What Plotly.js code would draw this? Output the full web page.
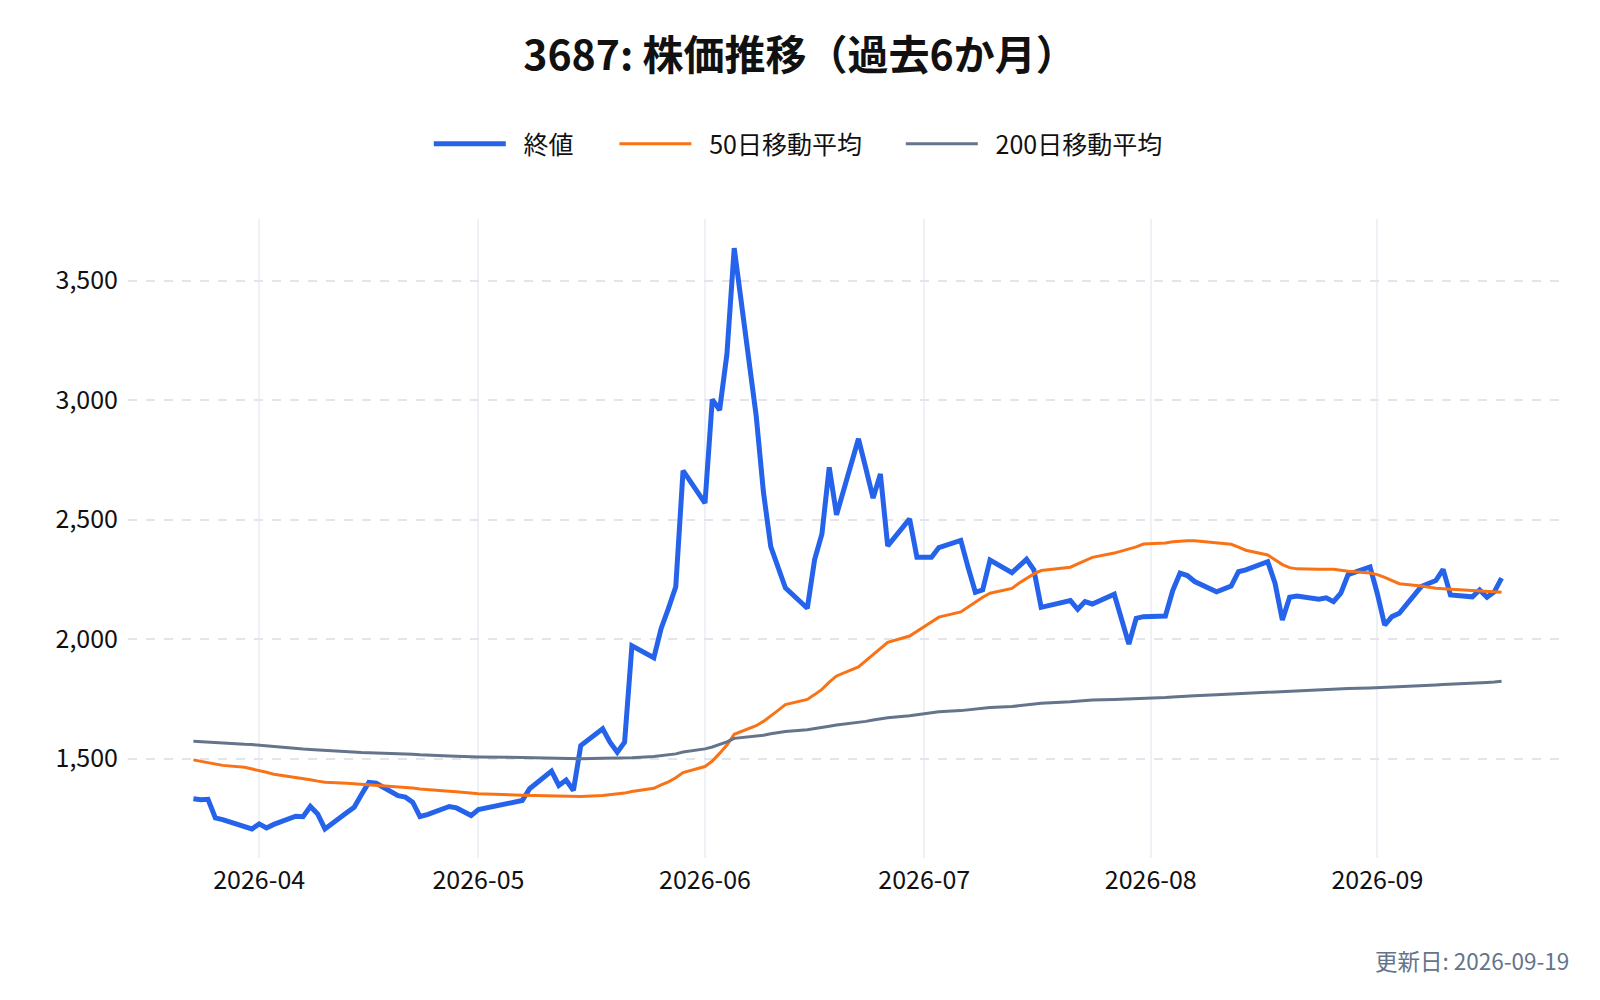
<!DOCTYPE html>
<html>
<head>
<meta charset="utf-8">
<script src="https://cdn.plot.ly/plotly-3.0.1.min.js"></script>
<style>
  body { margin: 0; background: #ffffff; }
  #chart { width: 1600px; height: 1000px; }
</style>
</head>
<body>
<div id="chart"></div>
<script>
// 3687 - price history, last 6 months (TSE trading days)
const FONT = '"Noto Sans CJK JP", "Noto Sans", sans-serif';

const dates = [
    '2026-03-23', '2026-03-24', '2026-03-25', '2026-03-26', '2026-03-27', '2026-03-30', '2026-03-31',
    '2026-04-01', '2026-04-02', '2026-04-03', '2026-04-06', '2026-04-07', '2026-04-08', '2026-04-09',
    '2026-04-10', '2026-04-13', '2026-04-14', '2026-04-15', '2026-04-16', '2026-04-17', '2026-04-20',
    '2026-04-21', '2026-04-22', '2026-04-23', '2026-04-24', '2026-04-27', '2026-04-28', '2026-04-30',
    '2026-05-01', '2026-05-07', '2026-05-08', '2026-05-11', '2026-05-12', '2026-05-13', '2026-05-14',
    '2026-05-15', '2026-05-18', '2026-05-19', '2026-05-20', '2026-05-21', '2026-05-22', '2026-05-25',
    '2026-05-26', '2026-05-27', '2026-05-28', '2026-05-29', '2026-06-01', '2026-06-02', '2026-06-03',
    '2026-06-04', '2026-06-05', '2026-06-08', '2026-06-09', '2026-06-10', '2026-06-11', '2026-06-12',
    '2026-06-15', '2026-06-16', '2026-06-17', '2026-06-18', '2026-06-19', '2026-06-22', '2026-06-23',
    '2026-06-24', '2026-06-25', '2026-06-26', '2026-06-29', '2026-06-30', '2026-07-01', '2026-07-02',
    '2026-07-03', '2026-07-06', '2026-07-07', '2026-07-08', '2026-07-09', '2026-07-10', '2026-07-13',
    '2026-07-14', '2026-07-15', '2026-07-16', '2026-07-17', '2026-07-21', '2026-07-22', '2026-07-23',
    '2026-07-24', '2026-07-27', '2026-07-28', '2026-07-29', '2026-07-30', '2026-07-31', '2026-08-03',
    '2026-08-04', '2026-08-05', '2026-08-06', '2026-08-07', '2026-08-10', '2026-08-12', '2026-08-13',
    '2026-08-14', '2026-08-17', '2026-08-18', '2026-08-19', '2026-08-20', '2026-08-21', '2026-08-24',
    '2026-08-25', '2026-08-26', '2026-08-27', '2026-08-28', '2026-08-31', '2026-09-01', '2026-09-02',
    '2026-09-03', '2026-09-04', '2026-09-07', '2026-09-08', '2026-09-09', '2026-09-10', '2026-09-11',
    '2026-09-14', '2026-09-15', '2026-09-16', '2026-09-17', '2026-09-18',
];

const closePrice = [
    1332, 1328, 1330, 1252, 1245, 1218, 1206,
    1227, 1210, 1225, 1259, 1257, 1300, 1269,
    1206, 1275, 1297, 1350, 1401, 1397, 1345,
    1339, 1318, 1258, 1266, 1300, 1294, 1262,
    1287, 1325, 1374, 1448, 1388, 1411, 1367,
    1555, 1625, 1569, 1527, 1569, 1972, 1922,
    2045, 2129, 2219, 2705, 2569, 3003, 2958,
    3192, 3636, 2935, 2615, 2387, 2300, 2215,
    2129, 2333, 2440, 2719, 2520, 2838, 2715,
    2590, 2691, 2390, 2503, 2343, 2343, 2343,
    2383, 2413, 2300, 2196, 2206, 2331, 2278,
    2305, 2334, 2290, 2133, 2161, 2125, 2157,
    2147, 2188, 2080, 1979, 2087, 2094, 2097,
    2203, 2276, 2266, 2241, 2198, 2222, 2282,
    2290, 2324, 2234, 2080, 2175, 2180, 2167,
    2173, 2157, 2192, 2270, 2302, 2190, 2059,
    2094, 2108, 2220, 2233, 2245, 2292, 2185,
    2177, 2206, 2175, 2198, 2255,
];

const ma50 = [
    1495, 1490, 1484, 1477, 1472, 1464, 1458,
    1450, 1443, 1435, 1423, 1419, 1412, 1406,
    1401, 1397, 1395, 1393, 1390, 1387, 1384,
    1381, 1377, 1373, 1370, 1364, 1362, 1356,
    1353, 1347, 1346, 1345, 1344, 1343, 1341,
    1342, 1346, 1349, 1352, 1356, 1363, 1376,
    1390, 1403, 1420, 1442, 1467, 1490, 1522,
    1557, 1602, 1638, 1656, 1678, 1702, 1726,
    1748, 1768, 1790, 1820, 1846, 1884, 1910,
    1935, 1960, 1987, 2013, 2032, 2053, 2072,
    2092, 2114, 2135, 2155, 2175, 2192, 2212,
    2235, 2255, 2273, 2287, 2301, 2315, 2329,
    2342, 2360, 2368, 2375, 2386, 2398, 2402,
    2407, 2410, 2412, 2412, 2404, 2397, 2385,
    2372, 2352, 2332, 2312, 2299, 2294, 2292,
    2292, 2292, 2288, 2284, 2277, 2270, 2258,
    2245, 2232, 2222, 2217, 2213, 2211, 2209,
    2206, 2203, 2200, 2197, 2196,
];

const ma200 = [
    1573, 1571, 1569, 1566, 1563, 1560, 1559,
    1556, 1553, 1549, 1541, 1540, 1538, 1536,
    1533, 1529, 1527, 1526, 1525, 1524, 1523,
    1521, 1518, 1516, 1514, 1511, 1510, 1508,
    1507, 1505, 1504, 1504, 1503, 1502, 1501,
    1500, 1502, 1502, 1503, 1503, 1504, 1509,
    1512, 1515, 1520, 1528, 1541, 1549, 1559,
    1570, 1585, 1593, 1598, 1604, 1609, 1614,
    1621, 1625, 1630, 1636, 1641, 1650, 1656,
    1662, 1668, 1671, 1680, 1684, 1688, 1692,
    1696, 1701, 1704, 1708, 1711, 1714, 1718,
    1721, 1725, 1729, 1732, 1738, 1741, 1743,
    1745, 1747, 1748, 1750, 1752, 1754, 1756,
    1758, 1759, 1761, 1763, 1767, 1770, 1772,
    1774, 1779, 1781, 1782, 1784, 1785, 1789,
    1790, 1791, 1792, 1794, 1796, 1797, 1798,
    1799, 1801, 1804, 1806, 1808, 1810, 1811,
    1814, 1816, 1819, 1821, 1824,
];

const seriesNames = ['終値', '50日移動平均', '200日移動平均'];
const updatedLabel = '更新日: 2026-09-19';

// 5% padding around the data on both axes
function paddedDateRange(ds, frac) {
    const t0 = Date.parse(ds[0]);
    const t1 = Date.parse(ds[ds.length - 1]);
    const pad = (t1 - t0) * frac;
    return [new Date(t0 - pad).toISOString(), new Date(t1 + pad).toISOString()];
}

function paddedRange(values, frac) {
    const lo = Math.min(...values);
    const hi = Math.max(...values);
    const pad = (hi - lo) * frac;
    return [lo - pad, hi + pad];
}

// a little air between the legend swatch and its label
const legendLabel = name => '\u00a0\u00a0\u200a' + name;

const traces = [
    {
        x: dates, y: closePrice, name: legendLabel(seriesNames[0]),
        type: 'scatter', mode: 'lines',
        line: { color: '#2563eb', width: 5 },
        legend: 'legend',
    },
    {
        x: dates, y: ma50, name: legendLabel(seriesNames[1]),
        type: 'scatter', mode: 'lines',
        line: { color: '#f97316', width: 3 },
        legend: 'legend2',
    },
    {
        x: dates, y: ma200, name: legendLabel(seriesNames[2]),
        type: 'scatter', mode: 'lines',
        line: { color: '#64748b', width: 3 },
        legend: 'legend3',
    },
];

const LEGEND_BASE = {
    orientation: 'h',
    xref: 'container', xanchor: 'left',
    yref: 'container', y: 0.856, yanchor: 'middle',
    font: { size: 25, color: '#111111' },
    itemwidth: 72,
    bgcolor: 'rgba(0,0,0,0)',
};

const layout = {
    width: 1600,
    height: 1000,
    paper_bgcolor: '#ffffff',
    plot_bgcolor: '#ffffff',
    font: { family: FONT, size: 25, color: '#111111' },
    title: {
        text: '3687: 株価推移（過去6か月）',
        font: { family: FONT, size: 41, color: '#111111', weight: 700 },
        x: 0.5, xanchor: 'center',
        y: 0.944, yanchor: 'middle',
    },
    margin: { l: 128, r: 33, t: 219, b: 142 },
    xaxis: {
        type: 'date',
        range: paddedDateRange(dates, 0.05),
        tick0: '2026-04-01',
        dtick: 'M1',
        tickformat: '%Y-%m',
        showgrid: true,
        gridcolor: '#eef1f6',
        gridwidth: 2,
        zeroline: false,
        showline: false,
        ticks: '',
        ticklabelstandoff: 5,
        tickfont: { size: 25, color: '#111111' },
    },
    yaxis: {
        range: paddedRange(closePrice.concat(ma50, ma200), 0.05),
        dtick: 500,
        tickformat: ',',
        showgrid: true,
        gridcolor: '#e4e5ea',
        gridwidth: 2,
        griddash: 'dash',
        zeroline: false,
        showline: false,
        ticks: '',
        ticklabelstandoff: 9,
        tickfont: { size: 25, color: '#111111' },
    },
    legend: { ...LEGEND_BASE, x: 0.268 },
    legend2: { ...LEGEND_BASE, x: 0.384 },
    legend3: { ...LEGEND_BASE, x: 0.563 },
    annotations: [{
        text: updatedLabel,
        xref: 'paper', yref: 'paper',
        x: 1, xanchor: 'right', xshift: 4,
        y: -0.16, yanchor: 'middle',
        showarrow: false,
        font: { size: 22.5, color: '#64748b' },
    }],
    showlegend: true,
    hovermode: 'x unified',
};

Plotly.newPlot('chart', traces, layout, { displayModeBar: false, responsive: false });
</script>
</body>
</html>
